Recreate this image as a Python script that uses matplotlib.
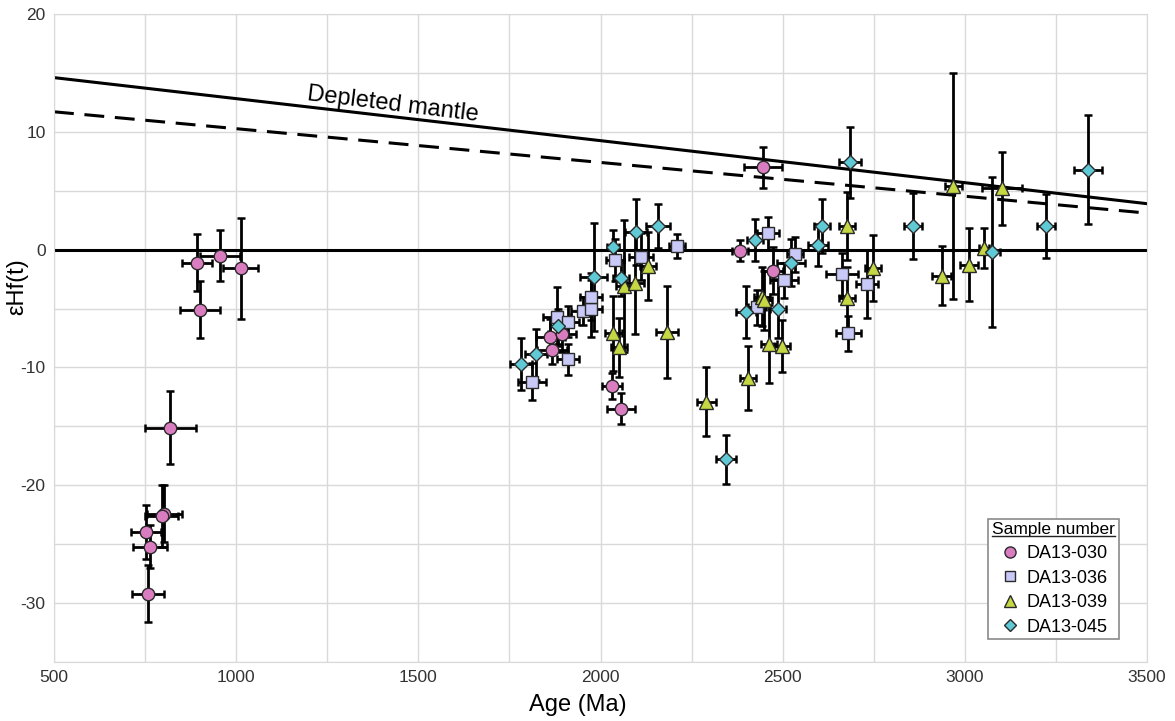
import matplotlib
matplotlib.use("Agg")
import matplotlib.pyplot as plt
from matplotlib.lines import Line2D

plt.rcParams['font.family'] = ['Liberation Sans', 'DejaVu Sans']
plt.rcParams['axes.unicode_minus'] = False

# sample DA13-030 (circles)
age_030 = [892, 956, 1013, 901, 819, 802, 796, 752, 764, 758, 1862, 1894, 1867, 2032, 2057, 2383, 2446, 2474]
age_err_030 = [42, 55, 48, 54, 70, 48, 45, 41, 47, 45, 40, 39, 40, 27, 38, 22, 53, 27]
ehf_030 = [-1.1, -0.5, -1.6, -5.1, -15.1, -22.4, -22.6, -24.0, -25.2, -29.2, -7.4, -7.2, -8.5, -11.6, -13.5, -0.1, 7.0, -1.8]
ehf_err_030 = [2.4, 2.2, 4.3, 2.4, 3.1, 2.4, 2.6, 2.3, 1.8, 2.4, 1.5, 1.5, 1.2, 1.1, 1.3, 0.9, 1.75, 2.0]

# sample DA13-036 (squares)
age_036 = [1812, 1881, 1911, 1911, 1952, 1974, 1974, 2040, 2111, 2210, 2460, 2534, 2504, 2430, 2663, 2732, 2680]
age_err_036 = [39, 39, 30, 30, 34, 31, 30, 25, 32, 23, 30, 22, 39, 25, 45, 30, 34]
ehf_036 = [-11.2, -5.7, -6.1, -9.3, -5.2, -5.0, -4.0, -0.9, -0.6, 0.3, 1.4, -0.4, -2.6, -4.9, -2.1, -2.9, -7.1]
ehf_err_036 = [1.6, 2.5, 1.3, 1.3, 1.2, 2.4, 2.0, 1.8, 2.0, 1.0, 1.4, 1.5, 1.5, 1.5, 1.8, 2.9, 1.5]

# sample DA13-039 (triangles)
age_039 = [2035, 2052, 2065, 2095, 2130, 2183, 2290, 2405, 2443, 2449, 2463, 2498, 2677, 2677, 2748, 2968, 3102, 2937, 3012, 3053]
age_err_039 = [23, 22, 22, 25, 22, 30, 26, 22, 22, 22, 22, 22, 22, 22, 22, 23, 55, 26, 25, 14]
ehf_039 = [-7.1, -8.3, -3.1, -2.8, -1.4, -7.0, -12.9, -10.9, -4.0, -4.3, -8.0, -8.2, 2.0, -4.1, -1.6, 5.4, 5.2, -2.2, -1.3, 0.1]
ehf_err_039 = [3.2, 2.5, 5.6, 4.4, 2.9, 3.9, 2.9, 2.7, 2.5, 2.5, 3.3, 2.2, 2.9, 2.6, 2.8, 9.6, 3.1, 2.5, 3.1, 1.7]

# sample DA13-045 (diamonds)
age_045 = [1782, 1823, 1884, 1982, 2035, 2056, 2097, 2158, 2345, 2400, 2424, 2487, 2523, 2608, 2597, 2685, 2858, 3074, 3223, 3338]
age_err_045 = [30, 30, 22, 37, 16, 22, 30, 32, 27, 27, 23, 23, 39, 22, 27, 30, 24, 22, 24, 39]
ehf_045 = [-9.7, -8.9, -6.5, -2.3, 0.2, -2.4, 1.5, 2.0, -17.8, -5.3, 0.8, -5.0, -1.1, 2.0, 0.4, 7.4, 2.0, -0.2, 2.0, 6.8]
ehf_err_045 = [2.2, 2.2, 1.5, 4.6, 1.5, 1.5, 2.8, 1.9, 2.1, 2.2, 1.8, 2.5, 2.0, 2.3, 1.8, 3.05, 2.8, 6.4, 2.75, 4.6]

# depleted mantle reference lines
dm_age = [500, 3500]
dm_solid = [14.6, 3.9]
dm_dashed = [11.7, 3.1]

samples = [
    ("DA13-030", age_030, age_err_030, ehf_030, ehf_err_030, 'o', '#d97cc0', 9),
    ("DA13-036", age_036, age_err_036, ehf_036, ehf_err_036, 's', '#c9c9f7', 8.5),
    ("DA13-039", age_039, age_err_039, ehf_039, ehf_err_039, '^', '#c5d844', 10),
    ("DA13-045", age_045, age_err_045, ehf_045, ehf_err_045, 'D', '#5fcad6', 7.5),
]

fig = plt.figure(figsize=(11.75, 7.21), dpi=100)
ax = fig.add_axes([54 / 1175, 1 - 662 / 721, 1093 / 1175, 648 / 721])

ax.set_xlim(500, 3500)
ax.set_ylim(-35, 20)
ax.set_xticks(range(500, 3501, 500))
ax.set_xticks(range(500, 3501, 250), minor=True)
ax.set_yticks(range(-30, 21, 10))
ax.set_yticks(range(-35, 21, 5), minor=True)
ax.grid(True, which='both', color='#d9d9d9', linewidth=1.0)
ax.set_axisbelow(True)
ax.tick_params(which='both', length=0, labelsize=12.5, colors='#333333', pad=6)
for s in ax.spines.values():
    s.set_color('#d9d9d9')

ax.axhline(0, color='black', linewidth=2.2, zorder=2)
ax.plot(dm_age, dm_solid, color='black', linewidth=2.2, zorder=2)
ax.plot(dm_age, dm_dashed, color='black', linewidth=2.2, dashes=(6.5, 3.5), zorder=2)
ax.text(1430, 12.3, "Depleted mantle", fontsize=17, rotation=-7.0,
        ha='center', va='center', rotation_mode='anchor', zorder=3)

handles = []
for name, age, aerr, ehf, eerr, mk, col, ms in samples:
    ax.errorbar(age, ehf, xerr=aerr, yerr=eerr, fmt='none', ecolor='black',
                elinewidth=2, capsize=3, capthick=1.8, zorder=4)
    ax.plot(age, ehf, linestyle='none', marker=mk, markersize=ms,
            markerfacecolor=col, markeredgecolor='#2a2a2a', markeredgewidth=1.0, zorder=5)
    handles.append(Line2D([], [], linestyle='none', marker=mk, markersize=ms - 1,
                          markerfacecolor=col, markeredgecolor='#2a2a2a',
                          markeredgewidth=1.0, label=name))

ax.set_xlabel("Age (Ma)", fontsize=17)
ax.set_ylabel("εHf(t)", fontsize=17)
ax.xaxis.set_label_coords(0.479, -0.05)
ax.yaxis.set_label_coords(-0.024, 0.579)

leg = ax.legend(handles=handles, loc='lower right', bbox_to_anchor=(0.974, 0.035),
                borderaxespad=0, fontsize=13, title="Sample number", title_fontsize=12.5,
                frameon=True, fancybox=False, edgecolor='#8a8a8a', framealpha=1,
                handletextpad=0.3, labelspacing=0.42, borderpad=0.2, handlelength=1.2)
leg.get_frame().set_linewidth(1.2)

# underline the legend title
fig.canvas.draw()
bb = leg.get_title().get_window_extent().transformed(fig.transFigure.inverted())
fig.add_artist(Line2D([bb.x0, bb.x1], [bb.y0 + 0.002, bb.y0 + 0.002],
                      transform=fig.transFigure, color='#222222', linewidth=1.0))

fig.savefig("out.png", dpi=100)
